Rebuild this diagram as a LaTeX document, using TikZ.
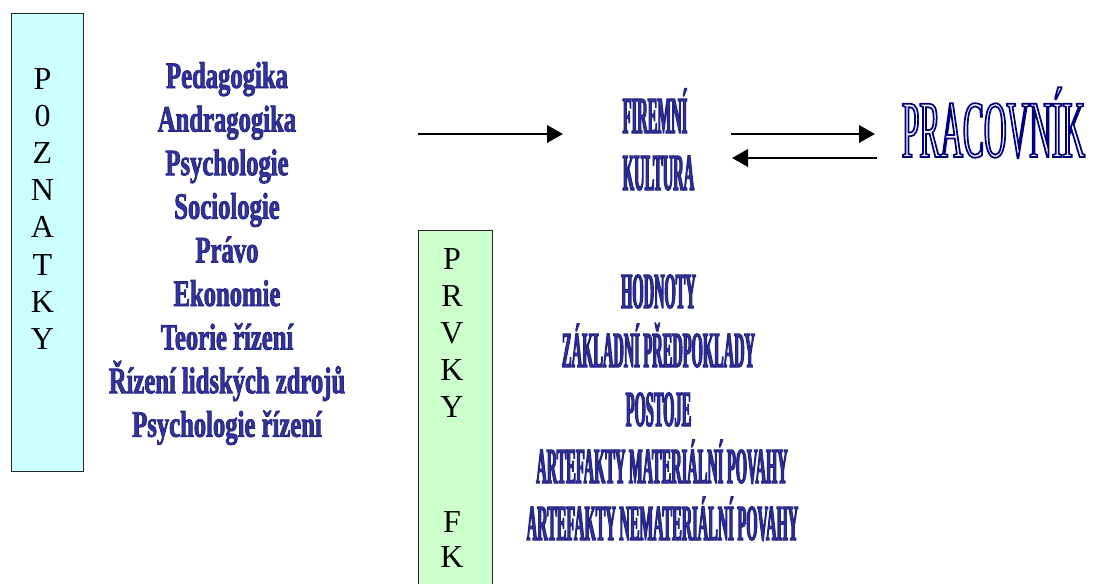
\documentclass[tikz,border=0pt]{standalone}
\usepackage{fontspec}
\usetikzlibrary{arrows.meta}
\setmainfont{Liberation Serif}
% condensed faces for the headings and lists
\newfontfamily\listfont{Liberation Serif}[FakeStretch=0.66]
\newfontfamily\heavyfont{Liberation Serif}[FakeStretch=0.285]
\newfontfamily\kulturafont{Liberation Serif}[FakeStretch=0.28]
\newfontfamily\workerfont{Liberation Serif}[FakeStretch=0.386]
\definecolor{wablue}{HTML}{333399}
\definecolor{navyblue}{HTML}{000080}
\definecolor{pozfill}{HTML}{CCFFFF}
\definecolor{prvfill}{HTML}{CCFFCC}
% outlined word-art text: fill plus a dark outline, or an outline only
\newcommand\filledtext[2]{\special{pdf:literal direct 2 Tr #1 w 0.14 0.14 0.52 RG}#2\special{pdf:literal direct 0 Tr}}
\newcommand\hollowtext[1]{\special{pdf:literal direct 1 Tr 1.3 w 0 0 0.5 RG}#1\special{pdf:literal direct 0 Tr}}
\tikzset{
  colbox/.style={draw=black!85, line width=1.1pt, anchor=north west, inner sep=0pt},
  letter/.style={anchor=base, inner sep=0pt, font=\fontsize{24}{26}\selectfont},
  listitem/.style={anchor=base, inner sep=0pt, text=wablue, font=\listfont\bfseries\fontsize{28}{30}\selectfont},
  elemitem/.style={anchor=base, inner sep=0pt, text=wablue, font=\heavyfont\bfseries\fontsize{38}{40}\selectfont},
  culture/.style={anchor=base, inner sep=0pt, text=wablue, font=\kulturafont\bfseries\fontsize{39}{41}\selectfont},
  worker/.style={anchor=base, inner sep=0pt, text=navyblue, font=\workerfont\fontsize{61}{64}\selectfont},
  arr/.style={line width=2pt, -{Triangle[length=12pt,width=13pt]}}
}
\begin{document}
\begin{tikzpicture}[x=0.75pt, y=-0.75pt]
\useasboundingbox (0,0) rectangle (1097,583);
\clip (0,0) rectangle (1097,583);

% left column: POZNATKY
\node (pozbox) [colbox, fill=pozfill, minimum width=54pt, minimum height=343.5pt] at (11,13) {};
\foreach \l [count=\i] in {P,0,Z,N,A,T,K,Y}
  \node (poz\i) [letter] at (42.5, {89+37.2*(\i-1)}) {\l};

% fields of knowledge
\foreach \t [count=\i] in {Pedagogika,Andragogika,Psychologie,Sociologie,Právo,Ekonomie,Teorie řízení,Řízení lidských zdrojů,Psychologie řízení}
  \node (field\i) [listitem] at (227, {88+43.6*(\i-1)}) {\filledtext{0.55}{\t}};

% corporate culture and the worker
\node (firemni) [culture] at (655,133) {\filledtext{0.8}{FIREMNÍ}};
\node (kultura) [culture] at (658.5,190) {\filledtext{0.8}{KULTURA}};
\node (pracovnik) [worker] at (993.5,157) {\hollowtext{PRACOVNÍK}};

\coordinate (inS) at (418,134);
\coordinate (inE) at (563,134);
\coordinate (toS) at (731,134);
\coordinate (toE) at (875,134);
\coordinate (backS) at (877,158);
\coordinate (backE) at (732,158);
\draw[arr] (inS) -- (inE);
\draw[arr] (toS) -- (toE);
\draw[arr] (backS) -- (backE);

% middle column: PRVKY FK
\node (prvbox) [colbox, fill=prvfill, minimum width=55.5pt, minimum height=285pt] at (418,230) {};
\foreach \l/\yy [count=\i] in {P/269,R/306,V/343,K/380,Y/417,F/532,K/567}
  \node (prv\i) [letter] at (452, \yy) {\l};

% elements of corporate culture
\foreach \t/\xx/\yy [count=\i] in {HODNOTY/658.5/308,ZÁKLADNÍ PŘEDPOKLADY/658.5/367,POSTOJE/658.5/426,ARTEFAKTY MATERIÁLNÍ POVAHY/662/483,ARTEFAKTY NEMATERIÁLNÍ POVAHY/662.5/540}
  \node (elem\i) [elemitem] at (\xx,\yy) {\filledtext{0.8}{\t}};
\end{tikzpicture}
\end{document}
